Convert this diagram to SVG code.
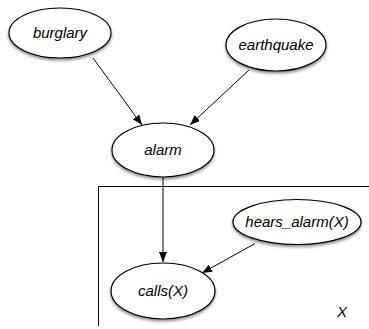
<svg xmlns="http://www.w3.org/2000/svg" width="369" height="329" viewBox="0 0 369 329">
<style>
.node ellipse{fill:#fff;stroke:#000;stroke-width:1.2;filter:url(#sh)}
.node text,.lbl{font-family:"Liberation Sans",Arial,sans-serif;font-style:italic;font-size:15px;fill:#000;text-anchor:middle}
.edges line{stroke:#000;stroke-width:1;marker-end:url(#arr)}
.plate{fill:none;stroke:#000;stroke-width:1}
</style>
<defs>
<filter id="sh" x="-20%" y="-20%" width="140%" height="150%">
<feDropShadow dx="0" dy="2" stdDeviation="1.5" flood-color="#000" flood-opacity="0.45"/>
</filter>
<marker id="arr" markerUnits="userSpaceOnUse" markerWidth="12" markerHeight="10" refX="10" refY="4" orient="auto">
<path d="M0,0 L10,4 L0,8 Z" fill="#000"/>
</marker>
</defs>
<rect width="369" height="329" fill="#fff"/>
<path class="plate" d="M98.5,326 V186.5 H369"/>
<g class="edges">
<line x1="93" y1="58" x2="142" y2="125"/>
<line x1="249" y1="70" x2="190" y2="125"/>
<line x1="163" y1="177" x2="163" y2="262"/>
<line x1="255" y1="243.5" x2="202" y2="273"/>
</g>
<g id="burglary" class="node"><ellipse cx="60" cy="33" rx="51" ry="25"/><text x="60" y="38">burglary</text></g>
<g id="earthquake" class="node"><ellipse cx="276" cy="45" rx="50" ry="26"/><text x="276" y="50">earthquake</text></g>
<g id="alarm" class="node"><ellipse cx="163" cy="150" rx="51" ry="27"/><text x="163" y="155">alarm</text></g>
<g id="hears_alarm" class="node"><ellipse cx="297" cy="222" rx="64" ry="22.5"/><text x="297" y="227">hears_alarm(X)</text></g>
<g id="calls" class="node"><ellipse cx="163" cy="291" rx="52" ry="28"/><text x="163" y="296">calls(X)</text></g>
<text class="lbl" x="342" y="317">X</text>
</svg>
